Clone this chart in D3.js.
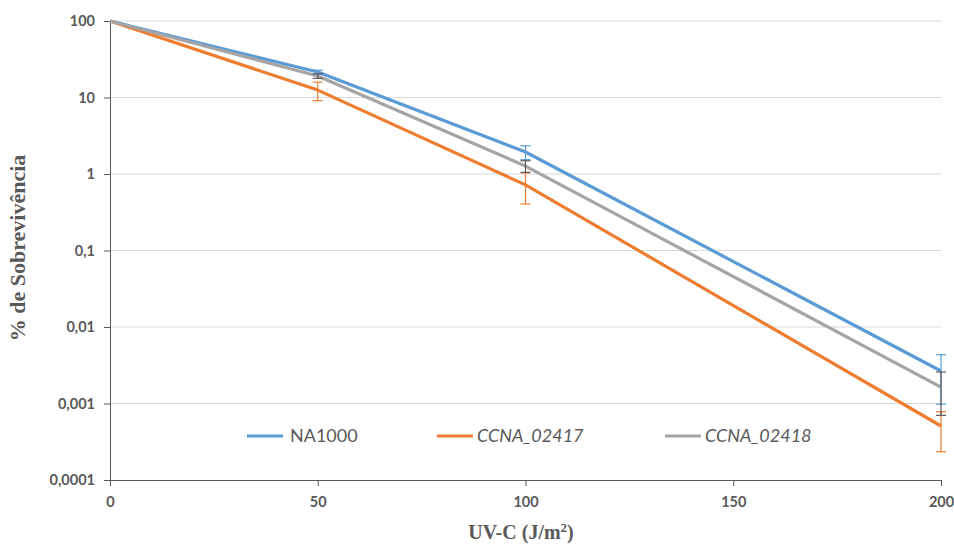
<!DOCTYPE html>
<html><head><meta charset="utf-8">
<script src="https://cdn.jsdelivr.net/npm/d3@7"></script>
<style>body{margin:0;background:#fff}svg{display:block}</style>
</head><body>
<svg id="c" width="954" height="544"></svg>
<script>
const doses = [0, 50, 100, 200];
const na1000 = [100, 21.5, 1.94, 0.00266];
const na1000Err = [0, 1.2, 0.4, 0.00168];
const ccna02417 = [100, 12.5, 0.72, 0.000508];
const ccna02417Err = [0, 3.4, 0.315, 0.000274];
const ccna02418 = [100, 19.1, 1.27, 0.00164];
const ccna02418Err = [0, 1.3, 0.22, 0.00094];
const seriesNames = ["NA1000", "CCNA_02417", "CCNA_02418"];
const colors = ["#5b9bd5", "#ed7d31", "#a5a5a5"];
const errColors = ["#5b9bd5", "#ed7d31", "#595959"];
const xTicks = [0, 50, 100, 150, 200];
const yTicks = [100, 10, 1, 0.1, 0.01, 0.001, 0.0001];
const yTickLabels = ["100", "10", "1", "0,1", "0,01", "0,001", "0,0001"];

const svg = d3.select("#c");
const x = d3.scaleLinear().domain([0, 200]).range([110, 941]);
const y = d3.scaleLog().domain([0.0001, 100]).range([480, 21]);

// gridlines
svg.append("g").selectAll("line").data(yTicks.slice(0, -1)).join("line")
  .attr("x1", x(0)).attr("x2", x(200))
  .attr("y1", d => y(d)).attr("y2", d => y(d))
  .attr("stroke", "#d9d9d9").attr("stroke-width", 1);

const tickFont = "Lato, 'Open Sans', sans-serif";
// y axis
const yAxis = svg.append("g").attr("transform", `translate(${x(0)},0)`)
  .call(d3.axisLeft(y).tickValues(yTicks).tickFormat((d, i) => yTickLabels[i]).tickSize(6).tickSizeOuter(0));
yAxis.select(".domain").attr("stroke", "#595959");
yAxis.selectAll(".tick line").attr("stroke", "#595959");
yAxis.selectAll(".tick text").attr("fill", "#595959").attr("font-family", tickFont)
  .attr("font-weight", "bold").attr("font-size", 14.5).attr("x", -15);

// x axis
const xAxis = svg.append("g").attr("transform", `translate(0,${y(0.0001)})`)
  .call(d3.axisBottom(x).tickValues(xTicks).tickSize(6).tickSizeOuter(0));
xAxis.select(".domain").attr("stroke", "#595959");
xAxis.selectAll(".tick line").attr("stroke", "#595959");
xAxis.selectAll(".tick text").attr("fill", "#595959").attr("font-family", tickFont)
  .attr("font-weight", "bold").attr("font-size", 14.5).attr("y", 17);

const data = [na1000, ccna02417, ccna02418];
const errs = [na1000Err, ccna02417Err, ccna02418Err];
const line = d3.line().x((d, i) => x(doses[i])).y(d => y(d));

data.forEach((s, k) => {
  svg.append("path").datum(s).attr("d", line)
    .attr("fill", "none").attr("stroke", colors[k]).attr("stroke-width", 3.2)
    .attr("stroke-linejoin", "round");
});
// error bars
data.forEach((s, k) => {
  const g = svg.append("g").attr("stroke", errColors[k]).attr("stroke-width", 1.2);
  s.forEach((v, i) => {
    const e = errs[k][i];
    if (!e) return;
    const xi = x(doses[i]);
    const lo = y(Math.max(v - e, 0.00001)), hi = y(v + e);
    g.append("line").attr("x1", xi).attr("x2", xi).attr("y1", lo).attr("y2", hi);
    g.append("line").attr("x1", xi - 5).attr("x2", xi + 5).attr("y1", lo).attr("y2", lo);
    g.append("line").attr("x1", xi - 5).attr("x2", xi + 5).attr("y1", hi).attr("y2", hi);
  });
});

// legend
const legX = [247, 437, 665];
seriesNames.forEach((n, k) => {
  svg.append("line").attr("x1", legX[k]).attr("x2", legX[k] + 36)
    .attr("y1", 436).attr("y2", 436).attr("stroke", colors[k]).attr("stroke-width", 3.2);
  svg.append("text").attr("x", legX[k] + (k === 0 ? 43 : 40)).attr("y", 442)
    .attr("font-family", tickFont).attr("font-size", 18).attr("fill", "#595959")
    .attr("font-style", k === 0 ? "normal" : "italic").text(n);
});

// axis titles
svg.append("text").attr("x", 521).attr("y", 539).attr("text-anchor", "middle")
  .attr("font-family", "'Liberation Serif', serif").attr("font-weight", "bold")
  .attr("font-size", 20).attr("fill", "#595959")
  .html('UV-C (J/m<tspan dy="-7" font-size="13">2</tspan><tspan dy="7">)</tspan>');
svg.append("text").attr("transform", "translate(25,248) rotate(-90)").attr("text-anchor", "middle")
  .attr("font-family", "'Liberation Serif', serif").attr("font-weight", "bold")
  .attr("font-size", 22).attr("fill", "#595959").text("% de Sobrevivência");
</script>
</body></html>
